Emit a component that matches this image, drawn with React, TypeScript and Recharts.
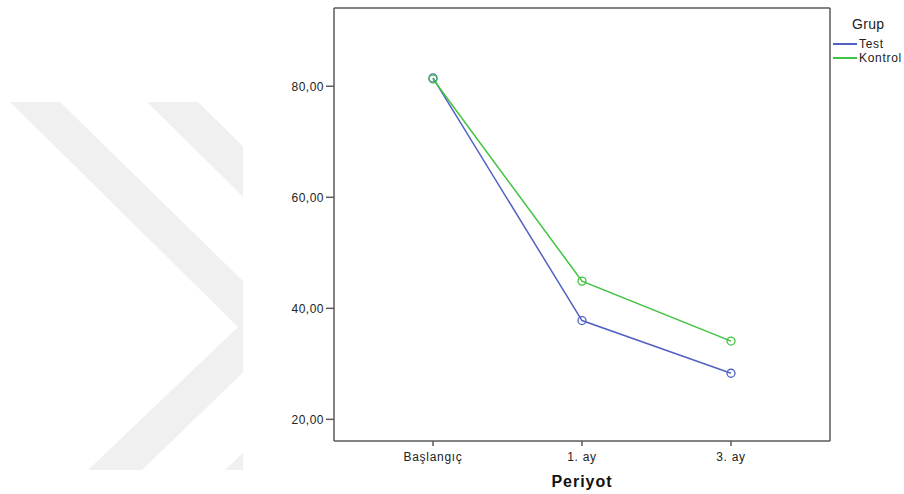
import { CartesianGrid, Line, LineChart, XAxis, YAxis } from "recharts"

const periods = ["Başlangıç", "1. ay", "3. ay"]
const testValues = [81.5, 37.8, 28.3]
const kontrolValues = [81.3, 44.9, 34.1]
const yTicks = [20, 40, 60, 80]

const series = [
  { key: "test", name: "Test", color: "#5262c2" },
  { key: "kontrol", name: "Kontrol", color: "#42c242" },
]

const data = periods.map((period, i) => ({
  period,
  test: testValues[i],
  kontrol: kontrolValues[i],
}))

const font = "'Liberation Sans', Arial, sans-serif"
const axisColor = "#5a5a5a"

// light chevron watermark behind the chart (clipped at the left panel edge)
function Watermark() {
  return (
    <svg width={904} height={494} style={{ position: "absolute", left: 0, top: 0 }}>
      <defs>
        <clipPath id="wm">
          <rect x={0} y={0} width={243} height={494} />
        </clipPath>
      </defs>
      <g clipPath="url(#wm)" fill="#f0f0f0">
        <polygon points="10,102 60,102 290,327 142,470 88,470 238,327" />
        <polygon points="147,102 198,102 427,327 279,470 225,470 375,327" />
      </g>
    </svg>
  )
}

export default function App() {
  return (
    <div style={{ position: "absolute", left: 0, top: 0, width: 904, height: 494, background: "#fff", fontFamily: font }}>
      <Watermark />
      <div style={{ position: "absolute", left: 0, top: 0 }}>
        <LineChart width={904} height={494} data={data} margin={{ top: 0, right: 0, left: 0, bottom: 0 }}>
          <CartesianGrid horizontal={false} vertical={false} />
          <XAxis
            dataKey="period"
            padding={{ left: 99, right: 99 }}
            height={53}
            tickSize={5}
            tickMargin={6}
            stroke={axisColor}
            strokeWidth={1.5}
            tick={{ fill: "#222", fontSize: 12, fontFamily: font, letterSpacing: 0.7 }}
            label={{
              value: "Periyot",
              position: "insideBottom",
              offset: 7,
              fill: "#111",
              fontSize: 16,
              fontWeight: "bold",
              fontFamily: font,
              letterSpacing: 1,
            }}
          />
          <XAxis
            xAxisId="top"
            dataKey="period"
            orientation="top"
            height={8}
            tick={false}
            tickLine={false}
            stroke={axisColor}
            strokeWidth={1.5}
          />
          <YAxis
            type="number"
            domain={[16.1, 94.1]}
            ticks={yTicks}
            allowDataOverflow
            width={334}
            tickSize={8}
            tickMargin={2}
            stroke={axisColor}
            strokeWidth={1.5}
            tickFormatter={(v: number) => v.toFixed(2).replace(".", ",")}
            tick={{ fill: "#222", fontSize: 12, fontFamily: font, letterSpacing: 0.5 }}
          />
          <YAxis
            yAxisId="right"
            orientation="right"
            domain={[16.1, 94.1]}
            width={74}
            tick={false}
            tickLine={false}
            stroke={axisColor}
            strokeWidth={1.5}
          />
          {series.map((s) => (
            <Line
              key={s.key}
              type="linear"
              dataKey={s.key}
              name={s.name}
              stroke={s.color}
              strokeWidth={1.5}
              dot={{ r: 4, fill: "none", stroke: s.color, strokeWidth: 1.3 }}
              activeDot={false}
              isAnimationActive={false}
            />
          ))}
        </LineChart>
      </div>
      <div style={{ position: "absolute", left: 833, top: 15, fontSize: 12, letterSpacing: 0.7, color: "#222" }}>
        <div style={{ fontSize: 14, letterSpacing: 0.3, marginLeft: 19, marginBottom: 4, lineHeight: "18px" }}>Grup</div>
        {series.map((s) => (
          <div key={s.key} style={{ display: "flex", alignItems: "center", height: 14 }}>
            <span style={{ display: "inline-block", width: 24, height: 2, background: s.color, marginRight: 2 }} />
            <span>{s.name}</span>
          </div>
        ))}
      </div>
    </div>
  )
}
